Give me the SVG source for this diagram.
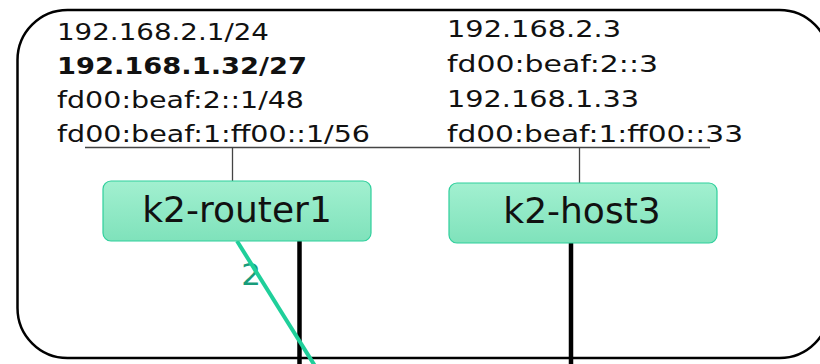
<svg xmlns="http://www.w3.org/2000/svg" width="820" height="364" viewBox="0 0 820 364">
  <style>
    .addr { font-family: "DejaVu Sans", "Liberation Sans", sans-serif; font-size: 23px; fill: #111; }
    .bold { font-weight: bold; }
    .node-box { fill: url(#nodeFill); stroke: #2fcf9c; stroke-width: 1.2; }
    .node-label { font-family: "DejaVu Sans", "Liberation Sans", sans-serif; font-size: 36px; fill: #111; text-anchor: middle; }
    .bus { stroke: #444; stroke-width: 1.3; fill: none; }
    .wire { stroke: #000; stroke-width: 4.5; fill: none; }
    .link { stroke: #1fcf9a; stroke-width: 4; fill: none; }
    .link-label { font-family: "DejaVu Sans", "Liberation Sans", sans-serif; font-size: 31px; fill: #189c7a; text-anchor: middle; }
  </style>
  <defs>
    <linearGradient id="nodeFill" x1="0" y1="0" x2="0" y2="1">
      <stop offset="0" stop-color="#a2f0d0"/>
      <stop offset="1" stop-color="#7fe2bb"/>
    </linearGradient>
  </defs>

  <!-- network area -->
  <rect x="17.5" y="10" width="812" height="348" rx="50" ry="50" fill="#fff" stroke="#000" stroke-width="2.5"/>

  <!-- address labels -->
  <g id="router1-addresses">
    <text class="addr" x="57" y="40" textLength="212" lengthAdjust="spacingAndGlyphs">192.168.2.1/24</text>
    <text class="addr bold" x="57" y="74" textLength="250" lengthAdjust="spacingAndGlyphs">192.168.1.32/27</text>
    <text class="addr" x="57" y="108" textLength="247" lengthAdjust="spacingAndGlyphs">fd00:beaf:2::1/48</text>
    <text class="addr" x="57" y="142" textLength="313" lengthAdjust="spacingAndGlyphs">fd00:beaf:1:ff00::1/56</text>
  </g>
  <g id="host3-addresses">
    <text class="addr" x="447" y="37" textLength="174" lengthAdjust="spacingAndGlyphs">192.168.2.3</text>
    <text class="addr" x="447" y="72" textLength="211" lengthAdjust="spacingAndGlyphs">fd00:beaf:2::3</text>
    <text class="addr" x="447" y="107" textLength="192" lengthAdjust="spacingAndGlyphs">192.168.1.33</text>
    <text class="addr" x="447" y="142" textLength="296" lengthAdjust="spacingAndGlyphs">fd00:beaf:1:ff00::33</text>
  </g>

  <!-- connectors -->
  <g id="connectors">
    <path class="bus" d="M85 147.5 H710"/>
    <path class="bus" d="M232.5 147.5 V181"/>
    <path class="bus" d="M579.5 147.5 V183"/>
    <path class="wire" d="M299.5 240 V364"/>
    <path class="wire" d="M571 239 V364"/>
    <text class="link-label" x="251" y="285">2</text>
    <path class="link" d="M237 241 L315 366"/>
  </g>

  <!-- nodes -->
  <g id="k2-router1">
    <rect class="node-box" x="103" y="181" width="268" height="60" rx="8" ry="8"/>
    <text class="node-label" x="237" y="222">k2-router1</text>
  </g>
  <g id="k2-host3">
    <rect class="node-box" x="449" y="183" width="268" height="60" rx="8" ry="8"/>
    <text class="node-label" x="582" y="223">k2-host3</text>
  </g>
</svg>
